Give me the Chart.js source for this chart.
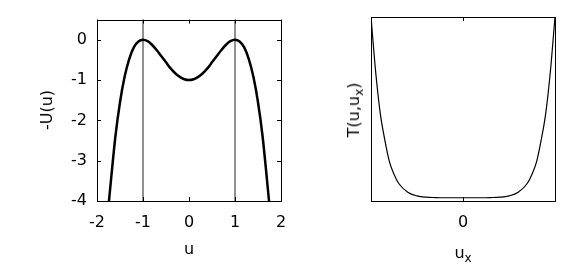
<!DOCTYPE html>
<html>
<head>
<meta charset="utf-8">
<script src="https://cdn.jsdelivr.net/npm/chart.js@4"></script>
<style>
    html, body { margin: 0; padding: 0; background: #fff; }
    #wrap { position: relative; width: 587px; height: 274px; overflow: hidden; font-family: "DejaVu Sans", sans-serif; font-size: 16px; color: #000; }
    canvas { position: absolute; top: 0; }
    .title { position: absolute; white-space: nowrap; line-height: 1; }
    .rot { transform: translate(-50%, -50%) rotate(-90deg); }
    .hor { transform: translate(-50%, -50%); }
    sub { font-size: 12px; vertical-align: -4px; line-height: 0; }
</style>
</head>
<body>
<div id="wrap">
    <canvas id="leftChart" width="300" height="274" style="left:0"></canvas>
    <canvas id="rightChart" width="287" height="274" style="left:300px"></canvas>
    <div class="title rot" style="left:47px; top:110px">-U(u)</div>
    <div class="title hor" style="left:189px; top:249px">u</div>
    <div class="title rot" style="left:354px; top:110px">T(u,u<sub>x</sub>)</div>
    <div class="title hor" style="left:463px; top:253px">u<sub>x</sub></div>
</div>
<script>
// left panel: -U(u)
const leftU = [-1.74, -1.6, -1.5, -1.4, -1.3, -1.2, -1.1, -1, -0.9, -0.8, -0.7, -0.6, -0.5, -0.4, -0.3, -0.2, -0.1, 0,
    0.1, 0.2, 0.3, 0.4, 0.5, 0.6, 0.7, 0.8, 0.9, 1, 1.1, 1.2, 1.3, 1.4, 1.5, 1.6, 1.74];
const leftMinusU = [-4.0, -2.4, -1.55, -0.92, -0.48, -0.19, -0.045, 0, -0.036, -0.13, -0.26, -0.41, -0.56, -0.71, -0.83, -0.92, -0.98, -1,
    -0.98, -0.92, -0.83, -0.71, -0.56, -0.41, -0.26, -0.13, -0.036, 0, -0.045, -0.19, -0.48, -0.92, -1.55, -2.4, -4.0];
const leftMarkers = [-1, 1];
const leftXTicks = [-2, -1, 0, 1, 2];
const leftYTicks = [0, -1, -2, -3, -4];

// right panel: T(u, u_x)
const rightUx = [-1, -0.95, -0.9, -0.85, -0.8, -0.75, -0.7, -0.6, -0.5, -0.4, -0.3, -0.2, -0.1, 0,
    0.1, 0.2, 0.3, 0.4, 0.5, 0.6, 0.7, 0.75, 0.8, 0.85, 0.9, 0.95, 1];
const rightT = [1, 0.7, 0.47, 0.32, 0.2, 0.13, 0.08, 0.03, 0.01, 0.003, 0.001, 0, 0, 0,
    0, 0, 0.001, 0.003, 0.01, 0.03, 0.08, 0.13, 0.2, 0.32, 0.47, 0.7, 1];
const rightXTicks = [0];

const framePlugin = {
    id: "frame",
    afterDraw(chart, args, opts) {
        const { ctx, chartArea: a, scales } = chart;
        const len = 4;
        ctx.save();
        ctx.strokeStyle = "#000";
        ctx.lineWidth = 1;
        ctx.beginPath();
        (opts.xTicks || []).forEach((v) => {
            const px = Math.round(scales.x.getPixelForValue(v)) + 0.5;
            ctx.moveTo(px, a.bottom); ctx.lineTo(px, a.bottom - len);
            ctx.moveTo(px, a.top); ctx.lineTo(px, a.top + len);
        });
        (opts.yTicks || []).forEach((v) => {
            const py = Math.round(scales.y.getPixelForValue(v)) + 0.5;
            ctx.moveTo(a.left, py); ctx.lineTo(a.left + len, py);
            ctx.moveTo(a.right, py); ctx.lineTo(a.right - len, py);
        });
        ctx.stroke();
        ctx.strokeRect(Math.round(a.left) + 0.5, Math.round(a.top) + 0.5,
            Math.round(a.right - a.left), Math.round(a.bottom - a.top));
        ctx.restore();
    }
};

function pairs(xs, ys) {
    return xs.map((x, i) => ({ x, y: ys[i] }));
}

const tickFont = { family: "DejaVu Sans", size: 16 };
const noGrid = { display: false, drawTicks: false };

new Chart(document.getElementById("leftChart"), {
    type: "line",
    plugins: [framePlugin],
    data: {
        datasets: [
            {
                data: pairs(leftU, leftMinusU),
                borderColor: "#000",
                borderWidth: 2.5,
                pointRadius: 0,
                cubicInterpolationMode: "monotone"
            },
            ...leftMarkers.map((m) => ({
                data: [{ x: m, y: -4 }, { x: m, y: 0.5 }],
                borderColor: "#222",
                borderWidth: 1,
                pointRadius: 0
            }))
        ]
    },
    options: {
        responsive: false,
        animation: false,
        devicePixelRatio: 1,
        layout: { padding: { top: 17, right: 19, left: 0, bottom: 0 } },
        plugins: { legend: { display: false }, tooltip: { enabled: false }, frame: { xTicks: leftXTicks, yTicks: leftYTicks } },
        scales: {
            x: {
                type: "linear", min: -2, max: 2,
                grid: noGrid, border: { display: false },
                afterBuildTicks: (s) => { s.ticks = leftXTicks.map((v) => ({ value: v })); },
                afterFit: (s) => { s.height = 73; },
                ticks: { color: "#000", font: tickFont, padding: 12, maxRotation: 0 }
            },
            y: {
                type: "linear", min: -4, max: 0.5,
                grid: noGrid, border: { display: false },
                afterBuildTicks: (s) => { s.ticks = leftYTicks.map((v) => ({ value: v })); },
                afterFit: (s) => { s.width = 97; },
                ticks: { color: "#000", font: tickFont, padding: 10 }
            }
        }
    }
});

new Chart(document.getElementById("rightChart"), {
    type: "line",
    plugins: [framePlugin],
    data: {
        datasets: [{
            data: pairs(rightUx, rightT),
            borderColor: "#000",
            borderWidth: 1.2,
            pointRadius: 0,
            cubicInterpolationMode: "monotone"
        }]
    },
    options: {
        responsive: false,
        animation: false,
        devicePixelRatio: 1,
        layout: { padding: { top: 17, right: 32, left: 71, bottom: 0 } },
        plugins: { legend: { display: false }, tooltip: { enabled: false }, frame: { xTicks: rightXTicks } },
        scales: {
            x: {
                type: "linear", min: -1, max: 1,
                grid: noGrid, border: { display: false },
                afterBuildTicks: (s) => { s.ticks = rightXTicks.map((v) => ({ value: v })); },
                afterFit: (s) => { s.height = 73; },
                ticks: { color: "#000", font: tickFont, padding: 12, maxRotation: 0 }
            },
            y: {
                type: "linear", min: -0.018, max: 1,
                display: false
            }
        }
    }
});
</script>
</body>
</html>
